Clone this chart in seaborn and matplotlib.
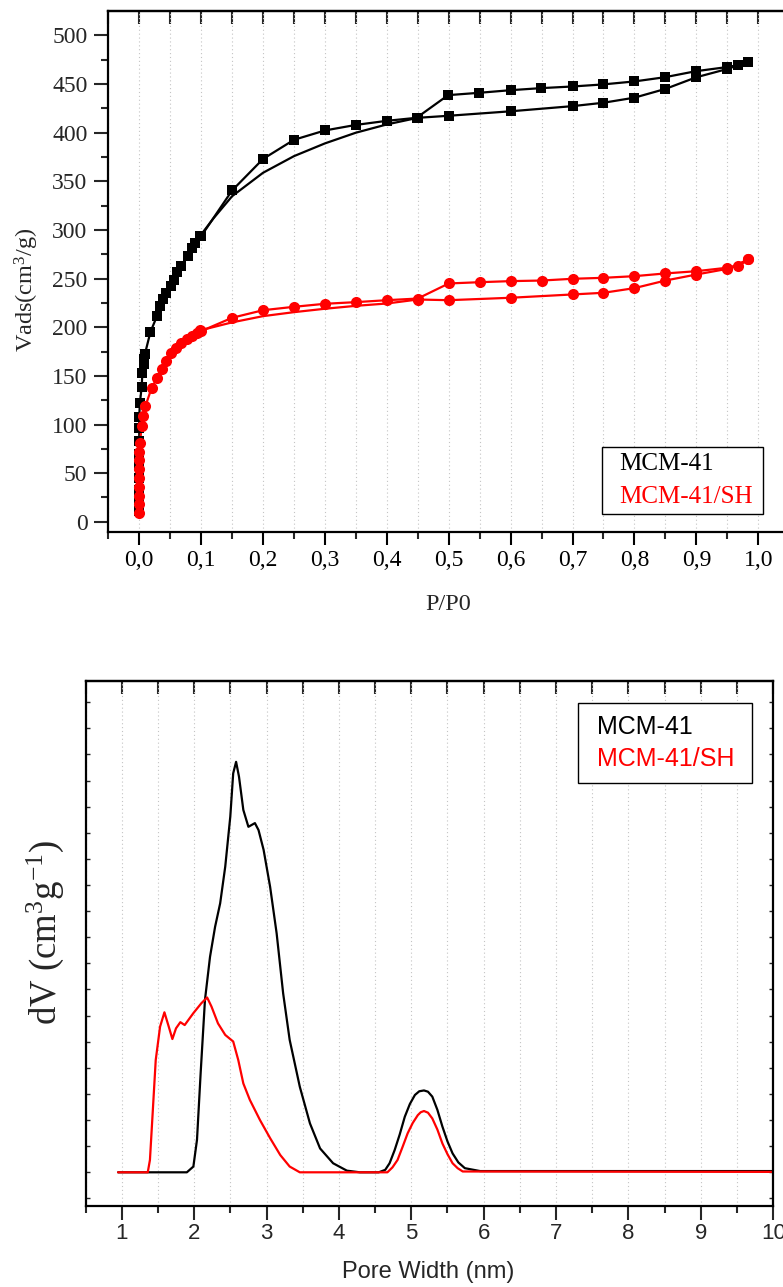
import numpy as np
import pandas as pd
import matplotlib
matplotlib.use("Agg")
import matplotlib.pyplot as plt
import seaborn as sns
from matplotlib.ticker import MultipleLocator, FixedLocator, NullFormatter
from matplotlib.lines import Line2D

# ---------------- data: N2 isotherms (P/P0, Vads cm3/g) ----------------
mcm_ads_p = [0.000, 0.000, 0.000, 0.000, 0.000, 0.000, 0.000, 0.000, 0.000, 0.001,
             0.004, 0.005, 0.007, 0.008, 0.009, 0.018, 0.029, 0.033, 0.039, 0.044,
             0.051, 0.056, 0.061, 0.067, 0.078, 0.085, 0.090, 0.098,
             0.45, 0.50, 0.60, 0.70, 0.75, 0.80, 0.85, 0.90, 0.95, 0.984]
mcm_ads_v = [11, 22, 33, 45, 57, 70, 83, 96, 108, 122,
             139, 153, 162, 167, 172, 195, 212, 221.7, 229, 235,
             242, 249, 256.6, 262.8, 273, 281.7, 286.8, 293.6,
             415.3, 417.4, 422, 427.3, 430.8, 436, 445, 457, 465.5, 472.9]
# adsorption branch between 0.1 and 0.45 (line only, no symbols)
mcm_ads_line_p = [0.098, 0.12, 0.15, 0.20, 0.25, 0.30, 0.35, 0.40, 0.45]
mcm_ads_line_v = [293.6, 312, 334.7, 358.8, 375.9, 389, 400, 408.5, 415.3]

mcm_des_p = [0.984, 0.968, 0.949, 0.899, 0.849, 0.80, 0.749, 0.70, 0.649, 0.60,
             0.549, 0.499, 0.448, 0.40, 0.35, 0.30, 0.25, 0.20, 0.15, 0.10]
mcm_des_v = [472.9, 469.5, 467.4, 463.2, 457, 452.7, 449.6, 447.5, 445.8, 443.7,
             441, 438.6, 415.3, 412.2, 408, 402.3, 392.7, 373, 340.6, 293.6]

sh_ads_p = [0.000, 0.000, 0.000, 0.000, 0.000, 0.000, 0.000, 0.000, 0.001,
            0.004, 0.006, 0.010, 0.020, 0.029, 0.036, 0.044, 0.052, 0.060,
            0.068, 0.077, 0.085, 0.093, 0.098,
            0.45, 0.50, 0.60, 0.70, 0.75, 0.80, 0.85, 0.90, 0.95, 0.984]
sh_ads_v = [9.2, 18, 27, 36, 45, 54, 63, 72, 81,
            98, 108.6, 118.9, 137.7, 148, 156.6, 165, 173.7, 178.9,
            184, 187.4, 190.8, 194.3, 196.7,
            228.5, 227.8, 230.3, 233.7, 235.4, 240.2, 248, 254.2, 260, 269.7]
sh_ads_line_p = [0.098, 0.15, 0.20, 0.25, 0.30, 0.35, 0.40, 0.45]
sh_ads_line_v = [196.7, 205, 211.4, 215.5, 219, 222, 224.4, 228.5]

sh_des_p = [0.984, 0.968, 0.949, 0.90, 0.85, 0.80, 0.75, 0.70, 0.65, 0.60,
            0.55, 0.50, 0.45, 0.40, 0.35, 0.30, 0.25, 0.20, 0.15, 0.10]
sh_des_v = [269.7, 262.8, 261.1, 257.6, 255.3, 252.5, 250.8, 249.8, 248, 247.4,
            246.3, 245, 229.5, 227.8, 225.8, 224.1, 221, 217.5, 209.7, 196]

x_tick_vals = [0.0, 0.1, 0.2, 0.3, 0.4, 0.5, 0.6, 0.7, 0.8, 0.9, 1.0]
x_tick_labels = ["0,0", "0,1", "0,2", "0,3", "0,4", "0,5", "0,6", "0,7", "0,8", "0,9", "1,0"]
y_tick_vals = [0, 50, 100, 150, 200, 250, 300, 350, 400, 450, 500]

# ---------------- data: pore size distribution (nm, arbitrary dV) ----------------
psd_mcm_w = [0.95, 1.90, 1.99, 2.04, 2.09, 2.15, 2.22, 2.29, 2.36, 2.43, 2.50, 2.54,
             2.58, 2.62, 2.68, 2.75, 2.80, 2.84, 2.89, 2.96, 3.05, 3.14, 3.23, 3.32,
             3.46, 3.60, 3.74, 3.92, 4.11, 4.29, 4.55, 4.64, 4.70, 4.77, 4.84, 4.91,
             4.98, 5.05, 5.11, 5.175, 5.23, 5.29, 5.36, 5.43, 5.50, 5.57, 5.65, 5.74,
             5.95, 10.0]
psd_mcm_dv = [0.0, 0.0, 0.014, 0.079, 0.24, 0.419, 0.524, 0.597, 0.654, 0.743, 0.865, 0.970,
              0.998, 0.962, 0.881, 0.840, 0.845, 0.849, 0.832, 0.784, 0.694, 0.581, 0.435, 0.322,
              0.208, 0.119, 0.058, 0.022, 0.004, 0.0, 0.0, 0.006, 0.022, 0.054, 0.092, 0.135,
              0.166, 0.188, 0.197, 0.199, 0.196, 0.184, 0.152, 0.111, 0.075, 0.046, 0.024, 0.010,
              0.003, 0.003]
psd_sh_w = [0.95, 1.36, 1.39, 1.43, 1.47, 1.53, 1.59, 1.65, 1.70, 1.75, 1.81, 1.87,
            1.99, 2.10, 2.18, 2.24, 2.33, 2.43, 2.54, 2.61, 2.68, 2.77, 2.91, 3.05,
            3.19, 3.32, 3.46, 4.67, 4.74, 4.81, 4.88, 4.95, 5.02, 5.09, 5.13, 5.175,
            5.23, 5.29, 5.36, 5.43, 5.50, 5.57, 5.64, 5.71, 10.0]
psd_sh_dv = [0.0, 0.0, 0.03, 0.151, 0.273, 0.354, 0.389, 0.354, 0.324, 0.35, 0.365, 0.358,
             0.387, 0.411, 0.425, 0.403, 0.362, 0.334, 0.318, 0.273, 0.216, 0.176, 0.127, 0.083,
             0.042, 0.014, 0.0, 0.0, 0.012, 0.03, 0.062, 0.095, 0.12, 0.139, 0.146, 0.149,
             0.145, 0.131, 0.104, 0.07, 0.044, 0.022, 0.01, 0.002, 0.001]
psd_tick_vals = [1, 2, 3, 4, 5, 6, 7, 8, 9, 10]

series_names = ["MCM-41", "MCM-41/SH"]
series_colors = ["black", "red"]

# ---------------- style ----------------
sns.set_theme(style="white")
plt.rcParams["font.family"] = ["Liberation Serif", "DejaVu Serif"]
plt.rcParams["mathtext.default"] = "regular"
plt.rcParams["axes.linewidth"] = 1.5
plt.rcParams["axes.edgecolor"] = "black"

W, H = 783, 1287
fig = plt.figure(figsize=(W / 100, H / 100), dpi=100)

# ---------------- top panel ----------------
a1_l, a1_r, a1_t, a1_b = 108.3, 783.0, 11.1, 531.5
ax1 = fig.add_axes([a1_l / W, 1 - a1_b / H, (a1_r - a1_l) / W, (a1_b - a1_t) / H])
ax1.set_axisbelow(True)

grid_kw = dict(color="#c4c4c4", linestyle=(0, (1, 2.5)), linewidth=0.8)

def iso_line(p, v, color):
    sns.lineplot(x=p, y=v, sort=False, estimator=None, color=color, linewidth=1.6, ax=ax1)

# black
iso_line(mcm_ads_p[:28] + mcm_ads_line_p[1:] + mcm_ads_p[29:], mcm_ads_v[:28] + mcm_ads_line_v[1:] + mcm_ads_v[29:], "black")
iso_line(mcm_des_p, mcm_des_v, "black")
sns.scatterplot(x=mcm_ads_p + mcm_des_p, y=mcm_ads_v + mcm_des_v, marker="s", s=52,
                color="black", edgecolor="black", linewidth=0, ax=ax1, zorder=3)
# red
iso_line(sh_ads_p[:23] + sh_ads_line_p[1:] + sh_ads_p[24:], sh_ads_v[:23] + sh_ads_line_v[1:] + sh_ads_v[24:], "red")
iso_line(sh_des_p, sh_des_v, "red")
sns.scatterplot(x=sh_ads_p + sh_des_p, y=sh_ads_v + sh_des_v, marker="o", s=64,
                color="red", edgecolor="red", linewidth=0, ax=ax1, zorder=4)

ax1.set_xlim(-0.05, 1.04)
ax1.set_ylim(-10, 525)
ax1.spines["right"].set_visible(False)
for s in ["left", "bottom", "top"]:
    ax1.spines[s].set_linewidth(1.6)

ax1.set_xticks(x_tick_vals, x_tick_labels)
ax1.xaxis.set_minor_locator(MultipleLocator(0.05))
ax1.set_yticks(y_tick_vals, [str(v) for v in y_tick_vals])
ax1.yaxis.set_minor_locator(FixedLocator(np.arange(25, 500, 50)))
ax1.tick_params(axis="x", which="major", direction="out", length=9, width=1.5,
                labelsize=17, pad=4, colors="black", bottom=True, top=False)
ax1.tick_params(axis="x", which="minor", direction="out", length=5, width=1.5, bottom=True)
ax1.tick_params(axis="y", which="major", direction="out", length=10, width=1.5,
                labelsize=17, pad=5, left=True, right=False)
ax1.tick_params(axis="y", which="minor", direction="out", length=5, width=1.5, left=True)
ax1.grid(False)
ax1.xaxis.grid(True, which="both", **grid_kw)

sec1 = ax1.secondary_xaxis("top")
sec1.xaxis.set_major_locator(MultipleLocator(0.05))
sec1.xaxis.set_major_formatter(NullFormatter())
sec1.tick_params(axis="x", direction="in", length=9, width=1.5)
sec1.spines["top"].set_linewidth(1.6)

ax1.set_xlabel("P/P0", fontsize=17.5, va="center")
ax1.xaxis.set_label_coords((448 - a1_l) / (a1_r - a1_l), (a1_b - 604) / (a1_b - a1_t))
ax1.set_ylabel("Vads(cm$^3$/g)", fontsize=17.5, va="center")
ax1.yaxis.set_label_coords((27 - a1_l) / (a1_r - a1_l), (a1_b - 290) / (a1_b - a1_t))

handles = [Line2D([], [], color="none") for _ in series_names]
leg1 = ax1.legend(handles, series_names, loc="lower left",
                  bbox_to_anchor=((601.7 - a1_l) / (a1_r - a1_l), (a1_b - 514) / (a1_b - a1_t),
                                  (763.3 - 601.7) / (a1_r - a1_l), 0.12),
                  mode="expand", borderaxespad=0, handlelength=0.45, handletextpad=0,
                  borderpad=0.24, labelspacing=0.40, fontsize=18, frameon=True,
                  fancybox=False, edgecolor="black", framealpha=1)
leg1.get_frame().set_linewidth(1.0)
for t, c in zip(leg1.get_texts(), series_colors):
    t.set_color(c)

# ---------------- bottom panel ----------------
a2_l, a2_r, a2_t, a2_b = 85.5, 773.3, 681.0, 1205.7
ax2 = fig.add_axes([a2_l / W, 1 - a2_b / H, (a2_r - a2_l) / W, (a2_b - a2_t) / H])
ax2.set_axisbelow(True)

sns.lineplot(x=psd_mcm_w, y=psd_mcm_dv, sort=False, estimator=None, color="black", linewidth=1.6, ax=ax2)
sns.lineplot(x=psd_sh_w, y=psd_sh_dv, sort=False, estimator=None, color="red", linewidth=1.6, ax=ax2)

ax2.set_xlim(0.5, 10)
ax2.set_ylim(-0.0812, 1.1945)
for s in ax2.spines.values():
    s.set_linewidth(1.6)

sans = "Liberation Sans"
ax2.set_xticks(psd_tick_vals, [str(v) for v in psd_tick_vals], fontfamily=sans)
ax2.xaxis.set_minor_locator(MultipleLocator(0.5))
ax2.tick_params(axis="x", which="major", direction="out", length=10, width=1.5,
                labelsize=16, pad=2.5, bottom=True, top=False)
ax2.tick_params(axis="x", which="minor", direction="out", length=5, width=1.5, bottom=True)
ax2.yaxis.set_major_locator(MultipleLocator(0.0635))
ax2.yaxis.set_major_formatter(NullFormatter())
ax2.tick_params(axis="y", which="major", direction="in", length=3, width=1.0,
                left=True, right=True, labelleft=False)
ax2.grid(False)
ax2.xaxis.grid(True, which="both", **grid_kw)

sec2 = ax2.secondary_xaxis("top")
sec2.xaxis.set_major_locator(MultipleLocator(0.5))
sec2.xaxis.set_major_formatter(NullFormatter())
sec2.tick_params(axis="x", direction="in", length=9, width=1.5)
sec2.spines["top"].set_linewidth(1.6)

ax2.set_xlabel("Pore Width (nm)", fontsize=17, fontfamily=sans, va="center")
ax2.xaxis.set_label_coords((428 - a2_l) / (a2_r - a2_l), (a2_b - 1271.7) / (a2_b - a2_t))
ax2.set_ylabel("dV (cm$^3$g$^{-1}$)", fontsize=26.5, va="center")
ax2.yaxis.set_label_coords((45 - a2_l) / (a2_r - a2_l), (a2_b - 933) / (a2_b - a2_t))

handles2 = [Line2D([], [], color="none") for _ in series_names]
leg2 = ax2.legend(handles2, series_names, loc="upper left",
                  bbox_to_anchor=((578.3 - a2_l) / (a2_r - a2_l), (a2_b - 783.3) / (a2_b - a2_t),
                                  (751.7 - 578.3) / (a2_r - a2_l), (783.3 - 703.3) / (a2_b - a2_t)),
                  mode="expand", borderaxespad=0, handlelength=0.26, handletextpad=0,
                  borderpad=0.48, labelspacing=0.29, prop={"family": sans, "size": 18},
                  frameon=True, fancybox=False, edgecolor="black", framealpha=1)
leg2.get_frame().set_linewidth(1.0)
for t, c in zip(leg2.get_texts(), series_colors):
    t.set_color(c)

fig.savefig("out.png", dpi=100)
